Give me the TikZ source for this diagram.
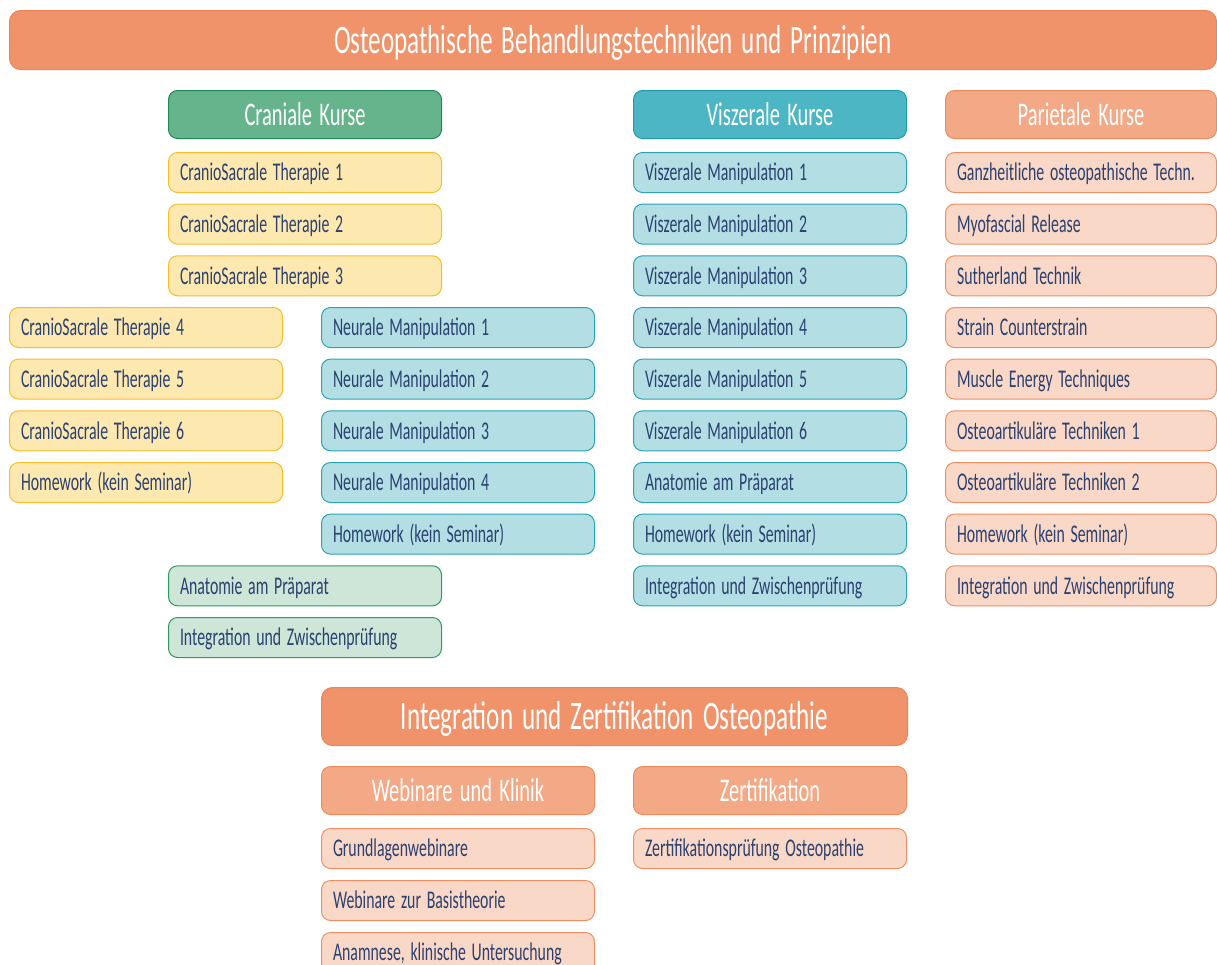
\documentclass[tikz,border=0pt]{standalone}
\usepackage{fontspec}
\setmainfont[FakeStretch=0.62, WordSpace=1.6]{Carlito}
\definecolor{txt}{HTML}{2B4170}
\definecolor{banF}{HTML}{F0936A}
\definecolor{banD}{HTML}{EC8458}
\definecolor{grnH}{HTML}{66B48C}
\definecolor{grnHD}{HTML}{1F8A52}
\definecolor{grnI}{HTML}{CDE6D8}
\definecolor{grnID}{HTML}{2E9A60}
\definecolor{yelI}{HTML}{FDE8B0}
\definecolor{yelID}{HTML}{F5BE2A}
\definecolor{tealH}{HTML}{4DB6C4}
\definecolor{tealHD}{HTML}{1E9AAA}
\definecolor{tealI}{HTML}{B3DFE4}
\definecolor{tealID}{HTML}{2AA3B3}
\definecolor{salH}{HTML}{F3A886}
\definecolor{salHD}{HTML}{EE8A5C}
\definecolor{salI}{HTML}{FAD8C8}
\definecolor{salID}{HTML}{EE8E62}
\tikzset{
  box/.style={rectangle, rounded corners=9pt, line width=1pt, anchor=north west, inner ysep=0pt},
  item/.style={box, minimum height=40pt, text width=#1-23pt, inner xsep=11.5pt, align=left, text=txt,
    font=\fontsize{25.5}{25.5}\selectfont, text height=16.4pt, text depth=0pt,
    execute at begin node={\spaceskip=0pt\xspaceskip=0pt\relax}},
  item/.default=273pt,
  head/.style={box, minimum height=48pt, minimum width=#1, inner xsep=0pt, align=center, text=white,
    font=\fontsize{33}{33}\selectfont, text height=21.2pt, text depth=0pt},
  head/.default=273pt,
  banner/.style={box, rounded corners=11pt, fill=banF, draw=banD, text=white, align=center, inner xsep=0pt,
    font=\fontsize{40.5}{40.5}\selectfont, text height=26.1pt, text depth=0pt},
  yel/.style={fill=yelI, draw=yelID},
  grn/.style={fill=grnI, draw=grnID},
  teal/.style={fill=tealI, draw=tealID},
  sal/.style={fill=salI, draw=salID},
  grnhead/.style={fill=grnH, draw=grnHD},
  tealhead/.style={fill=tealH, draw=tealHD},
  salhead/.style={fill=salH, draw=salHD},
}
\begin{document}
\begin{tikzpicture}[x=1pt,y=-1pt]
\useasboundingbox (0,0) rectangle (1217,964);
\clip (0,0) rectangle (1217,964);
\def\cA{9}\def\cB{168}\def\cC{321}\def\cD{633}\def\cE{945}
\def\rA{152}\def\rB{203.6}\def\rC{255.3}\def\rD{307}\def\rE{358.6}
\def\rF{410.3}\def\rG{462}\def\rH{513.6}\def\rI{565.3}\def\rJ{617}
% top banner
\node[banner, minimum width=1207pt, minimum height=59pt] (top) at (9,10) {Osteopathische Behandlungstechniken und Prinzipien};
% headers
\node[head, grnhead] (hcran) at (\cB,90) {Craniale Kurse};
\node[head, tealhead] (hvisz) at (\cD,90) {Viszerale Kurse};
\node[head=271pt, salhead] (hpar) at (\cE,90) {Parietale Kurse};
% craniale column
\node[item, yel] (cs1) at (\cB,\rA) {CranioSacrale Therapie 1};
\node[item, yel] (cs2) at (\cB,\rB) {CranioSacrale Therapie 2};
\node[item, yel] (cs3) at (\cB,\rC) {CranioSacrale Therapie 3};
\node[item, yel] (cs4) at (\cA,\rD) {CranioSacrale Therapie 4};
\node[item, yel] (cs5) at (\cA,\rE) {CranioSacrale Therapie 5};
\node[item, yel] (cs6) at (\cA,\rF) {CranioSacrale Therapie 6};
\node[item, yel] (chw) at (\cA,\rG) {Homework (kein Seminar)};
\node[item, teal] (nm1) at (\cC,\rD) {Neurale Manipulation 1};
\node[item, teal] (nm2) at (\cC,\rE) {Neurale Manipulation 2};
\node[item, teal] (nm3) at (\cC,\rF) {Neurale Manipulation 3};
\node[item, teal] (nm4) at (\cC,\rG) {Neurale Manipulation 4};
\node[item, teal] (nhw) at (\cC,\rH) {Homework (kein Seminar)};
\node[item, grn] (can) at (\cB,\rI) {Anatomie am Präparat};
\node[item, grn] (cint) at (\cB,\rJ) {Integration und Zwischenprüfung};
% viszerale column
\node[item, teal] (vm1) at (\cD,\rA) {Viszerale Manipulation 1};
\node[item, teal] (vm2) at (\cD,\rB) {Viszerale Manipulation 2};
\node[item, teal] (vm3) at (\cD,\rC) {Viszerale Manipulation 3};
\node[item, teal] (vm4) at (\cD,\rD) {Viszerale Manipulation 4};
\node[item, teal] (vm5) at (\cD,\rE) {Viszerale Manipulation 5};
\node[item, teal] (vm6) at (\cD,\rF) {Viszerale Manipulation 6};
\node[item, teal] (van) at (\cD,\rG) {Anatomie am Präparat};
\node[item, teal] (vhw) at (\cD,\rH) {Homework (kein Seminar)};
\node[item, teal] (vint) at (\cD,\rI) {Integration und Zwischenprüfung};
% parietale column
\node[item=271pt, sal] (p1) at (\cE,\rA) {Ganzheitliche osteopathische Techn.};
\node[item=271pt, sal] (p2) at (\cE,\rB) {Myofascial Release};
\node[item=271pt, sal] (p3) at (\cE,\rC) {Sutherland Technik};
\node[item=271pt, sal] (p4) at (\cE,\rD) {Strain Counterstrain};
\node[item=271pt, sal] (p5) at (\cE,\rE) {Muscle Energy Techniques};
\node[item=271pt, sal] (p6) at (\cE,\rF) {Osteoartikuläre Techniken 1};
\node[item=271pt, sal] (p7) at (\cE,\rG) {Osteoartikuläre Techniken 2};
\node[item=271pt, sal] (phw) at (\cE,\rH) {Homework (kein Seminar)};
\node[item=271pt, sal] (pint) at (\cE,\rI) {Integration und Zwischenprüfung};
% bottom section
\node[banner, minimum width=586pt, minimum height=58pt] (bot) at (\cC,687) {Integration und Zertifikation Osteopathie};
\node[head, salhead] (hweb) at (\cC,766) {Webinare und Klinik};
\node[head, salhead] (hzer) at (\cD,766) {Zertifikation};
\node[item, sal] (w1) at (\cC,828) {Grundlagenwebinare};
\node[item, sal] (w2) at (\cC,880) {Webinare zur Basistheorie};
\node[item, sal] (w3) at (\cC,932) {Anamnese, klinische Untersuchung};
\node[item, sal] (z1) at (\cD,828) {Zertifikationsprüfung Osteopathie};
\end{tikzpicture}
\end{document}
